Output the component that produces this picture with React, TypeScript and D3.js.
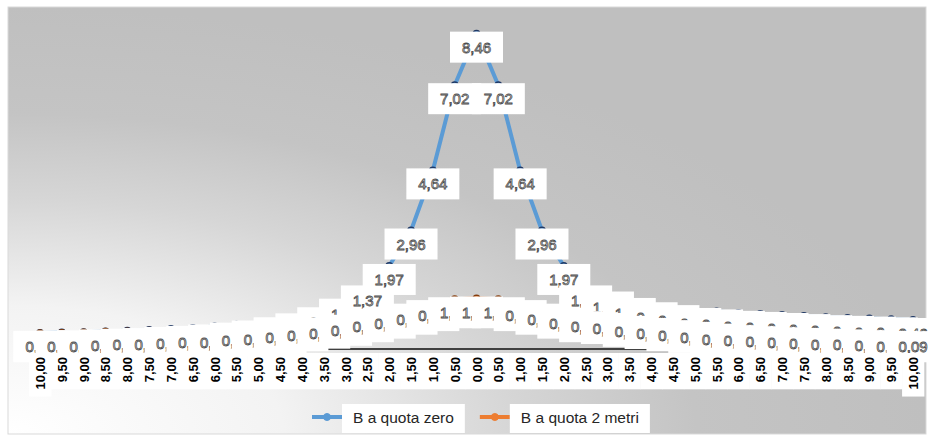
import React, { useEffect, useRef } from 'react';
import * as d3 from 'd3';

// distanza dal centro (m), letta come nel grafico
const categories = ['10,00', '9,50', '9,00', '8,50', '8,00', '7,50', '7,00', '6,50', '6,00', '5,50', '5,00', '4,50', '4,00', '3,50', '3,00', '2,50', '2,00', '1,50', '1,00', '0,50', '0,00', '0,50', '1,00', '1,50', '2,00', '2,50', '3,00', '3,50', '4,00', '4,50', '5,00', '5,50', '6,00', '6,50', '7,00', '7,50', '8,00', '8,50', '9,00', '9,50', '10,00'];

const quotaZero = [0.10, 0.11, 0.12, 0.14, 0.16, 0.18, 0.21, 0.24, 0.28, 0.33, 0.39, 0.48, 0.59, 0.76, 1.00, 1.37, 1.97, 2.96, 4.64, 7.02, 8.46, 7.02, 4.64, 2.96, 1.97, 1.37, 1.20, 1.02, 0.90, 0.82, 0.74, 0.70, 0.66, 0.63, 0.60, 0.57, 0.54, 0.52, 0.50, 0.48, 0.46];
const quota2m = [0.09, 0.10, 0.11, 0.13, 0.14, 0.16, 0.17, 0.20, 0.22, 0.26, 0.30, 0.34, 0.40, 0.47, 0.55, 0.65, 0.75, 0.86, 0.96, 1.04, 1.06, 1.04, 0.96, 0.86, 0.75, 0.65, 0.60, 0.52, 0.46, 0.40, 0.35, 0.30, 0.26, 0.23, 0.20, 0.18, 0.16, 0.14, 0.12, 0.10, 0.09];

const seriesNames = ['B a quota zero', 'B a quota 2 metri'];
const seriesColors = ['#5b9bd5', '#ed7d31'];
const markerStroke = ['#203864', '#843c0c'];

const W = 933;
const H = 436;
const fmt = (v: number) => v.toFixed(2).replace('.', ',');

function App() {
    const ref = useRef<SVGSVGElement | null>(null);

    useEffect(() => {
        const svg = d3.select(ref.current);
        svg.selectAll('*').remove();

        const series = [quotaZero, quota2m];
        const idx = d3.range(categories.length);

        const x = d3.scalePoint<number>().domain(idx).range([40, 913]);
        const step = x.step();
        const y = d3.scaleLinear().domain([-0.35, 9.4]).range([349, 0]);

        // background with the light corner bottom-left
        const defs = svg.append('defs');
        const grad = defs.append('radialGradient').attr('id', 'bg')
            .attr('cx', 0).attr('cy', 1).attr('r', 1).attr('fx', 0).attr('fy', 1);
        [[0, '#ffffff'], [0.3, '#f3f3f3'], [0.55, '#d6d6d6'], [0.75, '#c4c4c4'], [1, '#bfbfbf']]
            .forEach(([o, c]) => grad.append('stop').attr('offset', o as number).attr('stop-color', c as string));

        svg.append('rect').attr('x', 8).attr('y', 7).attr('width', 918).attr('height', 427)
            .attr('fill', 'url(#bg)').attr('stroke', '#d9d9d9').attr('stroke-width', 1);

        // category axis line
        svg.append('line')
            .attr('x1', x(0)! - step / 2).attr('x2', x(idx.length - 1)! + step / 2)
            .attr('y1', y(-0.35)).attr('y2', y(-0.35))
            .attr('stroke', '#404040').attr('stroke-width', 2);

        const line = d3.line<number>().x((d, i) => x(i)!).y(d => y(d));

        series.forEach((vals, s) => {
            svg.append('path').datum(vals)
                .attr('d', line)
                .attr('fill', 'none')
                .attr('stroke', seriesColors[s])
                .attr('stroke-width', 4)
                .attr('stroke-linejoin', 'round');
            svg.append('g').selectAll('circle').data(vals).join('circle')
                .attr('cx', (d, i) => x(i)!).attr('cy', d => y(d)).attr('r', 3.2)
                .attr('fill', seriesColors[s]).attr('stroke', markerStroke[s]).attr('stroke-width', 1.5);
        });

        // data labels, white boxes below the points, drawn in order
        series.forEach((vals) => {
            const g = svg.append('g').attr('class', 'labels');
            const lab = g.selectAll('g').data(vals).join('g')
                .attr('transform', (d, i) => `translate(${x(i)}, ${y(d)})`);
            lab.append('rect').attr('x', -26.5).attr('y', -2).attr('width', 53).attr('height', 31).attr('fill', '#ffffff');
            lab.append('text').attr('y', 19).attr('text-anchor', 'middle')
                .attr('font-family', 'Liberation Sans, Arial, sans-serif').attr('font-size', 15)
                .attr('fill', '#f4f4f4').attr('stroke', '#4d4d4d').attr('stroke-width', 0.8)
                .text(d => fmt(d));
        });

        // rotated category labels with white boxes
        const ticks = svg.append('g').selectAll('g').data(categories).join('g')
            .attr('transform', (d, i) => `translate(${x(i)}, 0)`);
        const boxes = ticks.append('rect').attr('x', -step / 2).attr('y', 353).attr('width', step + 0.5).attr('fill', '#ffffff');
        const tickText = ticks.append('text')
            .attr('transform', 'translate(5, 357) rotate(-90)')
            .attr('text-anchor', 'end')
            .attr('font-family', 'Liberation Sans, Arial, sans-serif')
            .attr('font-size', 13).attr('font-weight', 'bold').attr('fill', '#000000')
            .text(d => d);
        const lens = tickText.nodes().map(n => (n as SVGTextElement).getComputedTextLength());
        boxes.attr('height', (d, i) => lens[i] + 11);
        tickText.raise();

        // legend
        const legend = svg.append('g');
        let lx = 312;
        seriesNames.forEach((name, s) => {
            legend.append('line').attr('x1', lx).attr('x2', lx + 30).attr('y1', 417).attr('y2', 417)
                .attr('stroke', seriesColors[s]).attr('stroke-width', 4);
            legend.append('circle').attr('cx', lx + 15).attr('cy', 417).attr('r', 3.5)
                .attr('fill', seriesColors[s]).attr('stroke', seriesColors[s]);
            const box = legend.append('rect').attr('x', lx + 30).attr('y', 404).attr('height', 29).attr('fill', '#ffffff');
            const t = legend.append('text').attr('x', lx + 41).attr('y', 423)
                .attr('font-family', 'Liberation Sans, Arial, sans-serif').attr('font-size', 15.5)
                .attr('fill', '#262626').text(name);
            const tw = (t.node() as SVGTextElement).getComputedTextLength();
            box.attr('width', tw + 22);
            lx = lx + 30 + tw + 22 + 15;
        });
    }, []);

    return (
        <svg ref={ref} width={W} height={H}
            style={{ position: 'absolute', left: 0, top: 0, display: 'block' }} />
    );
}

export default App;
